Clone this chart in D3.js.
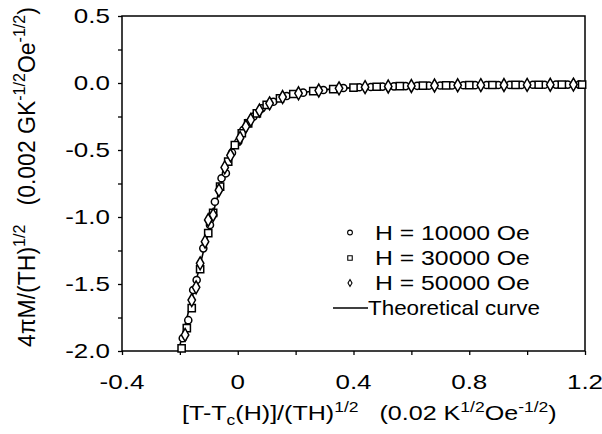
<!DOCTYPE html>
<html>
<head>
<meta charset="utf-8">
<script src="https://cdn.jsdelivr.net/npm/d3@7"></script>
<style>
  body { margin: 0; background: #fff; }
  svg { font-family: "Liberation Sans", Arial, sans-serif; }
</style>
</head>
<body>
<svg id="chart" width="602" height="434"></svg>
<script>
// ---- data ----
var xTicks = [-0.4, 0, 0.4, 0.8, 1.2];
var xTickLabels = ["-0.4", "0", "0.4", "0.8", "1.2"];
var xMinorTicks = [-0.4, -0.2, 0, 0.2, 0.4, 0.6, 0.8, 1.0, 1.2];
var yTicks = [0.5, 0, -0.5, -1, -1.5, -2];
var yTickLabels = ["0.5", "0.0", "-0.5", "-1.0", "-1.5", "-2.0"];
var yMinorTicks = [0.5, 0.25, 0, -0.25, -0.5, -0.75, -1, -1.25, -1.5, -1.75, -2];

// H = 10000 Oe (circles)
var h10000X = [-0.190, -0.171, -0.154, -0.142, -0.119, -0.096, -0.079, -0.056, -0.041, -0.020, 0.002, 0.019, 0.054, 0.083, 0.123, 0.169, 0.226, 0.296, 0.365,
               0.42, 0.46, 0.50, 0.54, 0.58, 0.62, 0.66, 0.70, 0.74, 0.78, 0.82, 0.86, 0.90, 0.94, 0.98, 1.02, 1.06, 1.10, 1.14, 1.18];
var h10000Y = [-1.905, -1.77, -1.545, -1.47, -1.234, -1.06, -0.886, -0.711, -0.674, -0.52, -0.438, -0.351, -0.251, -0.189, -0.140, -0.097, -0.072, -0.052, -0.037,
               -0.032, -0.030, -0.027, -0.025, -0.023, -0.021, -0.020, -0.019, -0.018, -0.017, -0.016, -0.015, -0.015, -0.014, -0.014, -0.013, -0.013, -0.012, -0.012, -0.012];

// H = 30000 Oe (squares)
var h30000X = [-0.194, -0.176, -0.159, -0.130, -0.102, -0.085, -0.061, -0.033, -0.010, 0.014, 0.036, 0.066, 0.100, 0.146, 0.192, 0.261, 0.330,
               0.40, 0.48, 0.56, 0.64, 0.72, 0.80, 0.88, 0.96, 1.04, 1.12, 1.19];
var h30000Y = [-1.98, -1.83, -1.68, -1.39, -1.12, -0.97, -0.774, -0.587, -0.463, -0.375, -0.301, -0.226, -0.164, -0.114, -0.082, -0.060, -0.045,
               -0.034, -0.028, -0.024, -0.020, -0.018, -0.016, -0.015, -0.014, -0.013, -0.012, -0.012];

// H = 50000 Oe (diamonds)
var h50000X = [-0.182, -0.159, -0.144, -0.130, -0.113, -0.102, -0.085, -0.065, -0.045, -0.025, 0.008, 0.028, 0.045, 0.075, 0.110, 0.155, 0.21, 0.28, 0.35,
               0.44, 0.52, 0.60, 0.68, 0.76, 0.84, 0.92, 1.00, 1.08, 1.16];
var h50000Y = [-1.88, -1.62, -1.525, -1.346, -1.184, -1.022, -0.985, -0.80, -0.63, -0.54, -0.41, -0.325, -0.275, -0.205, -0.152, -0.105, -0.077, -0.056, -0.040,
               -0.031, -0.026, -0.022, -0.019, -0.017, -0.016, -0.015, -0.014, -0.013, -0.012];

// theoretical curve
var curveX = [-0.205, -0.18, -0.15, -0.12, -0.10, -0.08, -0.06, -0.04, -0.02, 0.0, 0.02, 0.05, 0.08, 0.11, 0.15, 0.20, 0.26, 0.33, 0.42, 0.55, 0.70, 0.90, 1.05, 1.20];
var curveY = [-2.0, -1.79, -1.53, -1.27, -1.10, -0.93, -0.77, -0.63, -0.52, -0.43, -0.36, -0.27, -0.205, -0.158, -0.115, -0.082, -0.060, -0.045, -0.033, -0.024, -0.018, -0.013, -0.011, -0.010];

var legendLabels = ["H = 10000 Oe", "H = 30000 Oe", "H = 50000 Oe", "Theoretical curve"];

// ---- layout ----
var plot = { left: 122, right: 585, top: 16, bottom: 351 };
var stretch = 1.3; // glyphs in the scan are wide

var svg = d3.select("#chart");

var x = d3.scaleLinear().domain([-0.4, 1.2]).range([plot.left, plot.right]);
var y = d3.scaleLinear().domain([-2, 0.5]).range([plot.bottom, plot.top]);

function zip(xs, ys) {
    return xs.map(function (d, i) { return { x: d, y: ys[i] }; });
}

// frame
svg.append("rect")
    .attr("x", plot.left).attr("y", plot.top)
    .attr("width", plot.right - plot.left).attr("height", plot.bottom - plot.top)
    .attr("fill", "none").attr("stroke", "#000").attr("stroke-width", 1.5);

// ticks (all outward, same length)
var xAxis = svg.append("g")
    .attr("transform", "translate(0," + plot.bottom + ")")
    .call(d3.axisBottom(x).tickValues(xMinorTicks).tickSize(4).tickSizeOuter(0).tickFormat(""));
var yAxis = svg.append("g")
    .attr("transform", "translate(" + plot.left + ",0)")
    .call(d3.axisLeft(y).tickValues(yMinorTicks).tickSize(4).tickSizeOuter(0).tickFormat(""));
[xAxis, yAxis].forEach(function (a) {
    a.select(".domain").remove();
    a.selectAll("line").attr("stroke", "#000").attr("stroke-width", 1.3);
});

// tick labels
svg.append("g").selectAll("text")
    .data(xTicks)
    .join("text")
    .attr("transform", function (d) { return "translate(" + x(d) + ",389) scale(" + stretch + ",1)"; })
    .attr("text-anchor", "middle")
    .attr("font-size", 20)
    .text(function (d, i) { return xTickLabels[i]; });

svg.append("g").selectAll("text")
    .data(yTicks)
    .join("text")
    .attr("transform", function (d) { return "translate(110," + (y(d) + 7) + ") scale(" + stretch + ",1)"; })
    .attr("text-anchor", "end")
    .attr("font-size", 20)
    .text(function (d, i) { return yTickLabels[i]; });

// theoretical curve
svg.append("path")
    .datum(zip(curveX, curveY))
    .attr("fill", "none")
    .attr("stroke", "#000")
    .attr("stroke-width", 1.6)
    .attr("d", d3.line()
        .x(function (d) { return x(d.x); })
        .y(function (d) { return y(d.y); })
        .curve(d3.curveMonotoneX));

// data markers
var series = [
    { xs: h10000X, ys: h10000Y, type: d3.symbolCircle, size: 40, legendSize: 18 },
    { xs: h30000X, ys: h30000Y, type: d3.symbolSquare, size: 52, legendSize: 20 },
    { xs: h50000X, ys: h50000Y, type: d3.symbolDiamond, size: 48, legendSize: 14 }
];

series.forEach(function (s) {
    svg.append("g").selectAll("path")
        .data(zip(s.xs, s.ys))
        .join("path")
        .attr("transform", function (d) { return "translate(" + x(d.x) + "," + y(d.y) + ")"; })
        .attr("d", d3.symbol().type(s.type).size(s.size))
        .attr("fill", "#fff")
        .attr("stroke", "#000")
        .attr("stroke-width", 1.5);
});

// legend
var legendBase = [239.5, 265, 290, 315];
var legend = svg.append("g");
series.forEach(function (s, i) {
    legend.append("path")
        .attr("transform", "translate(350," + (legendBase[i] - 7) + ")")
        .attr("d", d3.symbol().type(s.type).size(s.legendSize))
        .attr("fill", "#fff").attr("stroke", "#000").attr("stroke-width", 1.1);
});
legend.append("line")
    .attr("x1", 333).attr("x2", 368)
    .attr("y1", legendBase[3] - 7).attr("y2", legendBase[3] - 7)
    .attr("stroke", "#000").attr("stroke-width", 1.6);

var legendX = [375, 375, 375, 368];
var legendW = [155, 155, 155, 172];
legendLabels.forEach(function (lab, i) {
    var t = legend.append("text").attr("font-size", 20).text(lab);
    var w = t.node().getBBox().width;
    t.attr("transform", "translate(" + legendX[i] + "," + legendBase[i] + ") scale(" + (legendW[i] / w) + ",1)");
});

// axis titles
function addPieces(t, pieces) {
    pieces.forEach(function (p) {
        t.append("tspan")
            .attr("dy", p.dy || 0)
            .attr("font-size", p.small ? 14 : 20)
            .text(p.s);
    });
}

var xTitle = svg.append("text").attr("font-size", 20);
addPieces(xTitle, [
    { s: "[T-T" },
    { s: "c", small: true, dy: 5 },
    { s: "(H)]/(TH)", dy: -5 },
    { s: "1/2", small: true, dy: -8 },
    { s: "\u00a0\u00a0\u00a0(0.02 K", dy: 8 },
    { s: "1/2", small: true, dy: -8 },
    { s: "Oe", dy: 8 },
    { s: "-1/2", small: true, dy: -8 },
    { s: ")", dy: 8 }
]);
var xw = xTitle.node().getBBox().width;
xTitle.attr("transform", "translate(182,420) scale(" + (375 / xw) + ",1)");

var yTitle = svg.append("text").attr("font-size", 20);
addPieces(yTitle, [
    { s: "4\u03c0M/(TH)" },
    { s: "1/2", small: true, dy: -8 },
    { s: "\u00a0\u00a0\u00a0(0.002 GK", dy: 8 },
    { s: "-1/2", small: true, dy: -8 },
    { s: "Oe", dy: 8 },
    { s: "-1/2", small: true, dy: -8 },
    { s: ")", dy: 8 }
]);
var yw = yTitle.node().getBBox().width;
yTitle.attr("transform", "translate(35,347) rotate(-90) scale(" + (340 / yw) + ",1.2)");
</script>
</body>
</html>
